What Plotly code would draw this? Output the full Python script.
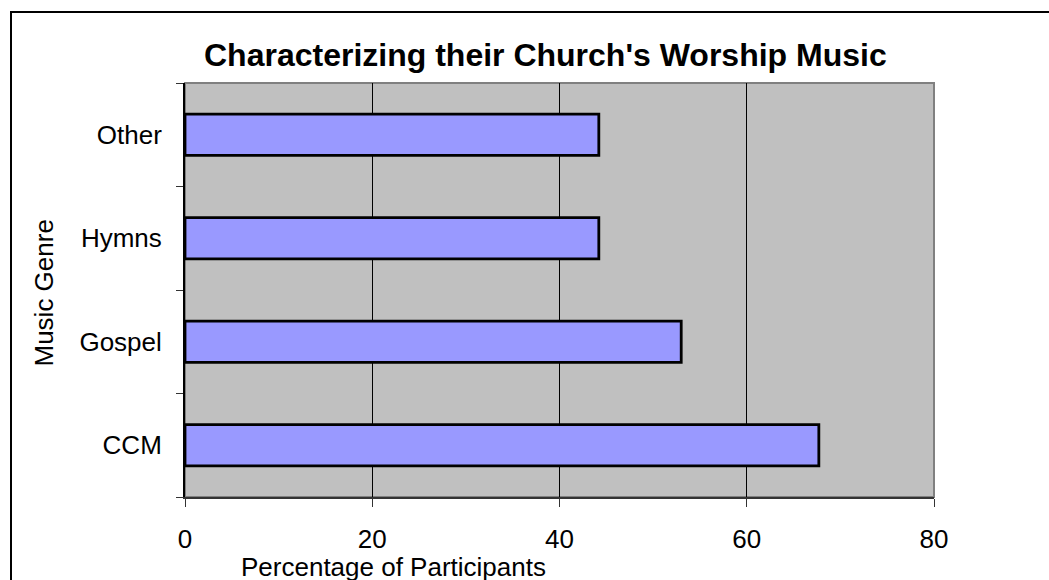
import plotly.graph_objects as go

# Survey results: share of participants describing their church's worship music
genres = ["CCM", "Gospel", "Hymns", "Other"]
percentages = [67.7, 53.0, 44.2, 44.2]
x_ticks = [0, 20, 40, 60, 80]

W, H = 1049, 580
L, R, T, B = 185, 934, 83, 497  # plot-area edges in pixels
FONT = "Liberation Sans, Arial, sans-serif"


def px(xp):
    return (xp - L) / (R - L)


def py(yp):
    return (B - yp) / (B - T)


fig = go.Figure(
    go.Bar(
        x=percentages,
        y=genres,
        orientation="h",
        marker=dict(color="#9999FF", line=dict(color="black", width=2.8)),
        width=0.4,
    )
)

fig.update_layout(
    width=W,
    height=H,
    margin=dict(l=L, r=W - R, t=T, b=H - B, pad=0),
    paper_bgcolor="white",
    plot_bgcolor="#C0C0C0",
    showlegend=False,
    font=dict(family=FONT, size=26, color="black"),
)

fig.update_xaxes(
    range=[0, 80],
    tickvals=x_ticks,
    ticktext=[str(v) for v in x_ticks],
    showgrid=True,
    gridcolor="black",
    gridwidth=1,
    zeroline=False,
    showline=True,
    linecolor="#333333",
    linewidth=2,
    ticks="outside",
    ticklen=8,
    tickwidth=1,
    tickcolor="#333333",
    ticklabelstandoff=10,
    tickfont=dict(size=26, family=FONT, color="black"),
)

fig.update_yaxes(
    categoryorder="array",
    categoryarray=genres,
    showgrid=False,
    zeroline=False,
    showline=True,
    linecolor="black",
    linewidth=2,
    ticks="outside",
    tickson="boundaries",
    ticklen=7,
    tickwidth=1,
    tickcolor="#333333",
    ticklabelstandoff=16,
    tickfont=dict(size=26, family=FONT, color="black"),
)

shapes = [
    # plot-area frame (top and right edges show in grey)
    dict(type="rect", xref="paper", yref="paper", x0=0, y0=0, x1=1, y1=1,
         line=dict(color="#808080", width=2), layer="below"),
    # outer chart border
    dict(type="rect", xref="paper", yref="paper",
         x0=px(11), y0=py(600), x1=px(1070), y1=py(12),
         line=dict(color="black", width=2), fillcolor="rgba(0,0,0,0)"),
]

annotations = [
    dict(text="<b>Characterizing their Church's Worship Music</b>",
         x=px(545.5), y=py(55), xref="paper", yref="paper",
         xanchor="center", yanchor="middle", showarrow=False,
         font=dict(size=32, family=FONT, color="black")),
    dict(text="Percentage of Participants",
         x=px(393.5), y=py(567), xref="paper", yref="paper",
         xanchor="center", yanchor="middle", showarrow=False,
         font=dict(size=26, family=FONT, color="black")),
    dict(text="Music Genre", textangle=-90,
         x=px(43.5), y=py(293), xref="paper", yref="paper",
         xanchor="center", yanchor="middle", showarrow=False,
         font=dict(size=26, family=FONT, color="black")),
]

fig.update_layout(shapes=shapes, annotations=annotations, bargap=0.6)

fig.write_html("out.html")
